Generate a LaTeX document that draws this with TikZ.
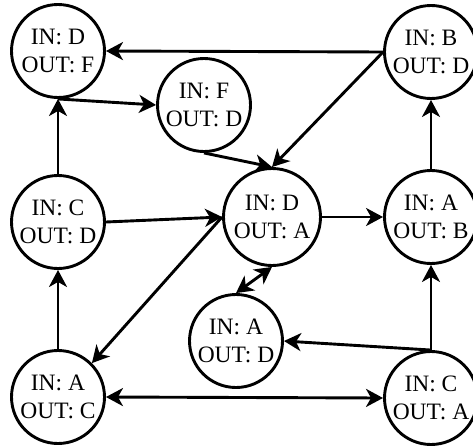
\documentclass[tikz,border=0pt]{standalone}
\usepackage{fontspec}
\setmainfont{Liberation Serif}
\usetikzlibrary{arrows.meta}
\begin{document}
\begin{tikzpicture}[x=1pt,y=-1pt,
		vtx/.style={circle,draw,line width=2.9pt,minimum size=93pt,inner sep=0pt,align=center,font=\fontsize{23.5}{28}\selectfont},
		link/.style={line width=2.9pt,-{Stealth[length=17pt,width=18pt,inset=5pt]}},
		dlink/.style={link,{Stealth[length=17pt,width=18pt,inset=5pt]}-{Stealth[length=17pt,width=18pt,inset=5pt]}}]
		\useasboundingbox (0,0) rectangle (473,447);
		
		\node[vtx] (df) at (58,51) {IN: D\\OUT: F};
		\node[vtx] (fd) at (204,105) {IN: F\\OUT: D};
		\node[vtx] (bd) at (431,52) {IN: B\\OUT: D};
		\node[vtx] (cd) at (58,222) {IN: C\\OUT: D};
		\node[vtx,minimum size=97pt] (da) at (272,217) {IN: D\\OUT: A};
		\node[vtx] (ab) at (431,217) {IN: A\\OUT: B};
		\node[vtx] (ad) at (236,341) {IN: A\\OUT: D};
		\node[vtx] (ac) at (58,397) {IN: A\\OUT: C};
		\node[vtx] (ca) at (431,398) {IN: C\\OUT: A};
		
		\draw[link] (bd.west) -- (df.east);
		\draw[link] (df.south) -- (fd.west);
		\draw[link] (fd.south) -- (da.north);
		\draw[link] (bd.west) -- (da.north);
		\draw[link] (cd.north) -- (df.south);
		\draw[link] (cd.east) -- (da.west);
		\draw[link] (da.east) -- (ab.west);
		\draw[link] (ab.north) -- (bd.south);
		\draw[dlink] (ad.north) -- (da.south);
		\draw[link] (da.west) -- (ac.north east);
		\draw[link] (ac.north) -- (cd.south);
		\draw[dlink] (ac.east) -- (ca.west);
		\draw[link] (ca.north) -- (ab.south);
		\draw[link] (ca.north) -- (ad.east);
	\end{tikzpicture}
\end{document}
